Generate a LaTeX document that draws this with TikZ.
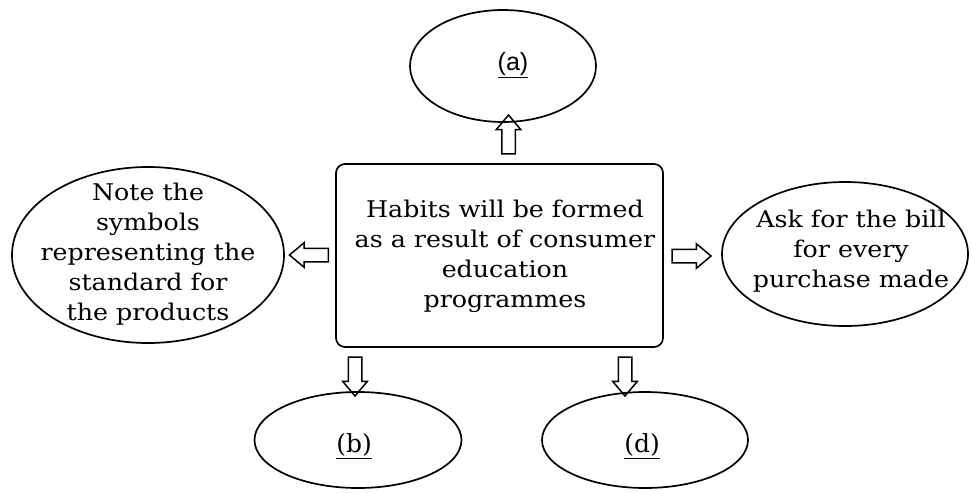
\documentclass[tikz,border=0pt]{standalone}
\usepackage{fontspec}
\setmainfont{DejaVu Serif}[FakeStretch=1.10]
\newfontfamily\plainserif{DejaVu Serif}
\newfontfamily\labelsans{Liberation Sans}
\usetikzlibrary{shapes.geometric,shapes.arrows}
\begin{document}
\begin{tikzpicture}[x=1pt,y=-1pt,
  bubble/.style={draw, ellipse, line width=1.7pt, inner sep=0pt},
  bodytext/.style={align=center, font=\fontsize{23}{30}\selectfont, inner sep=0pt},
  lettertext/.style={inner sep=0pt, font=\fontsize{25}{28}\selectfont},
  blockarrow/.style={draw, single arrow, line width=1.5pt, inner xsep=0pt, inner ysep=6pt,
    minimum width=0pt, minimum height=39pt, single arrow head extend=5.5pt,
    single arrow tip angle=80},
  mainbox/.style={draw, rounded corners=9pt, line width=1.7pt, minimum width=327pt, minimum height=183pt, inner sep=0pt}]
\useasboundingbox (0,0) rectangle (971,493);

% central box
\node[mainbox] (box) at (499.5,255.5) {};
\node[bodytext] (boxtext) at (505,256) {Habits will be formed\\as a result of consumer\\education\\programmes};

% ellipses
\node[bubble, minimum width=186pt, minimum height=112pt] (A) at (503,66) {};
\node[lettertext] (Atext) at (513,65) {\labelsans\underline{(a)}};

\node[bubble, minimum width=272pt, minimum height=176pt] (L) at (148,255) {};
\node[bodytext] (Ltext) at (148,254) {Note the\\symbols\\representing the\\standard for\\the products};

\node[bubble, minimum width=246pt, minimum height=144pt] (R) at (845,254) {};
\node[bodytext] (Rtext) at (851,251) {Ask for the bill\\for every\\purchase made};

\node[bubble, minimum width=207pt, minimum height=96pt] (B) at (358,440) {};
\node[lettertext] (Btext) at (354,446) {\plainserif\underline{(b)}};

\node[bubble, minimum width=206pt, minimum height=96pt] (D) at (645,440) {};
\node[lettertext] (Dtext) at (642,446) {\plainserif\underline{(d)}};

% block arrows
\node[blockarrow, rotate=90] (upA) at (508.5,138.5) {};
\node[blockarrow, rotate=180] (leftL) at (313,255) {};
\node[blockarrow] (rightR) at (687.5,256) {};
\node[blockarrow, rotate=270] (downB) at (355,372.5) {};
\node[blockarrow, rotate=270] (downD) at (625,372.5) {};
\end{tikzpicture}
\end{document}
